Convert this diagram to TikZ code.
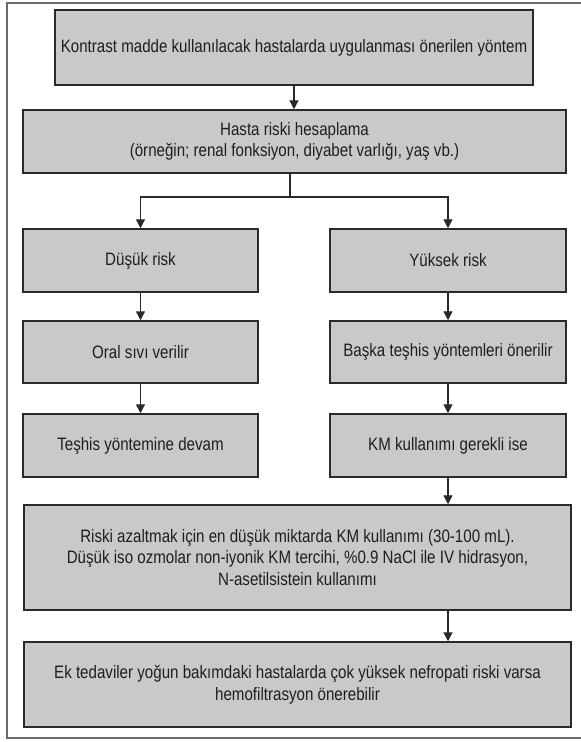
\documentclass[tikz,border=0pt]{standalone}
\usepackage{fontspec}
\setmainfont[FakeStretch=0.84]{Liberation Sans}
\usetikzlibrary{arrows.meta}
\definecolor{boxgray}{HTML}{C9C9C9}
\definecolor{edgecol}{HTML}{2A2A2A}
\definecolor{framecol}{HTML}{6A6A6A}
\definecolor{txtcol}{HTML}{1E1E1E}
\tikzset{
  flowbox/.style={draw=edgecol, line width=1.5pt, fill=boxgray, inner sep=0pt,
    align=center, text=txtcol, font=\fontsize{18}{21.5}\selectfont},
  conn/.style={draw=edgecol, line width=1.3pt},
  arr/.style={conn, -{Triangle[width=9pt,length=9pt]}},
}
\begin{document}
\begin{tikzpicture}[x=1pt,y=-1pt]
\useasboundingbox (0,0) rectangle (581,742);
\fill[white] (0,0) rectangle (581,742);
\draw[framecol, line width=1.5pt] (581,3) -- (7,3) -- (7,738) -- (581,738);

\node[flowbox, minimum width=478pt, minimum height=75pt] (b1) at (294,47.5)
  {Kontrast madde kullanılacak hastalarda uygulanması önerilen yöntem};
\node[flowbox, minimum width=543pt, minimum height=63pt] (b2) at (294.5,141.5)
  {Hasta riski hesaplama\\(örneğin; renal fonksiyon, diyabet varlığı, yaş vb.)};
\node[flowbox, minimum width=235pt, minimum height=63pt] (b3) at (140.5,260.5) {Düşük risk};
\node[flowbox, minimum width=236pt, minimum height=63pt] (b4) at (448,260.5) {Yüksek risk};
\node[flowbox, minimum width=235pt, minimum height=62pt] (b5) at (140.5,352) {Oral sıvı verilir};
\node[flowbox, minimum width=236pt, minimum height=62pt] (b6) at (448,352) {Başka teşhis yöntemleri önerilir};
\node[flowbox, minimum width=235pt, minimum height=63pt] (b7) at (140.5,445.5) {Teşhis yöntemine devam};
\node[flowbox, minimum width=236pt, minimum height=63pt] (b8) at (448,445.5) {KM kullanımı gerekli ise};
\node[flowbox, minimum width=547pt, minimum height=105pt] (b9) at (297.5,557.5)
  {Riski azaltmak için en düşük miktarda KM kullanımı (30-100 mL).\\
   Düşük iso ozmolar non-iyonik KM tercihi, \%0.9 NaCl ile IV hidrasyon,\\
   N-asetilsistein kullanımı};
\node[flowbox, minimum width=547pt, minimum height=85pt] (b10) at (297.5,684.5)
  {Ek tedaviler yoğun bakımdaki hastalarda çok yüksek nefropati riski varsa\\
   hemofiltrasyon önerebilir};

\coordinate (split) at (290,197);

\draw[arr] (b1.south) -- (b1.south |- b2.north);
\draw[conn] (b2.south -| split) -- (split);
\draw[arr] (split) -| (b3.north);
\draw[arr] (split) -| (b4.north);
\draw[arr] (b3.south) -- (b5.north);
\draw[arr] (b5.south) -- (b7.north);
\draw[arr] (b4.south) -- (b6.north);
\draw[arr] (b6.south) -- (b8.north);
\draw[arr] (b8.south) -- (b8.south |- b9.north);
\draw[arr] (b9.south -| b8.south) -- (b10.north -| b8.south);
\end{tikzpicture}
\end{document}
